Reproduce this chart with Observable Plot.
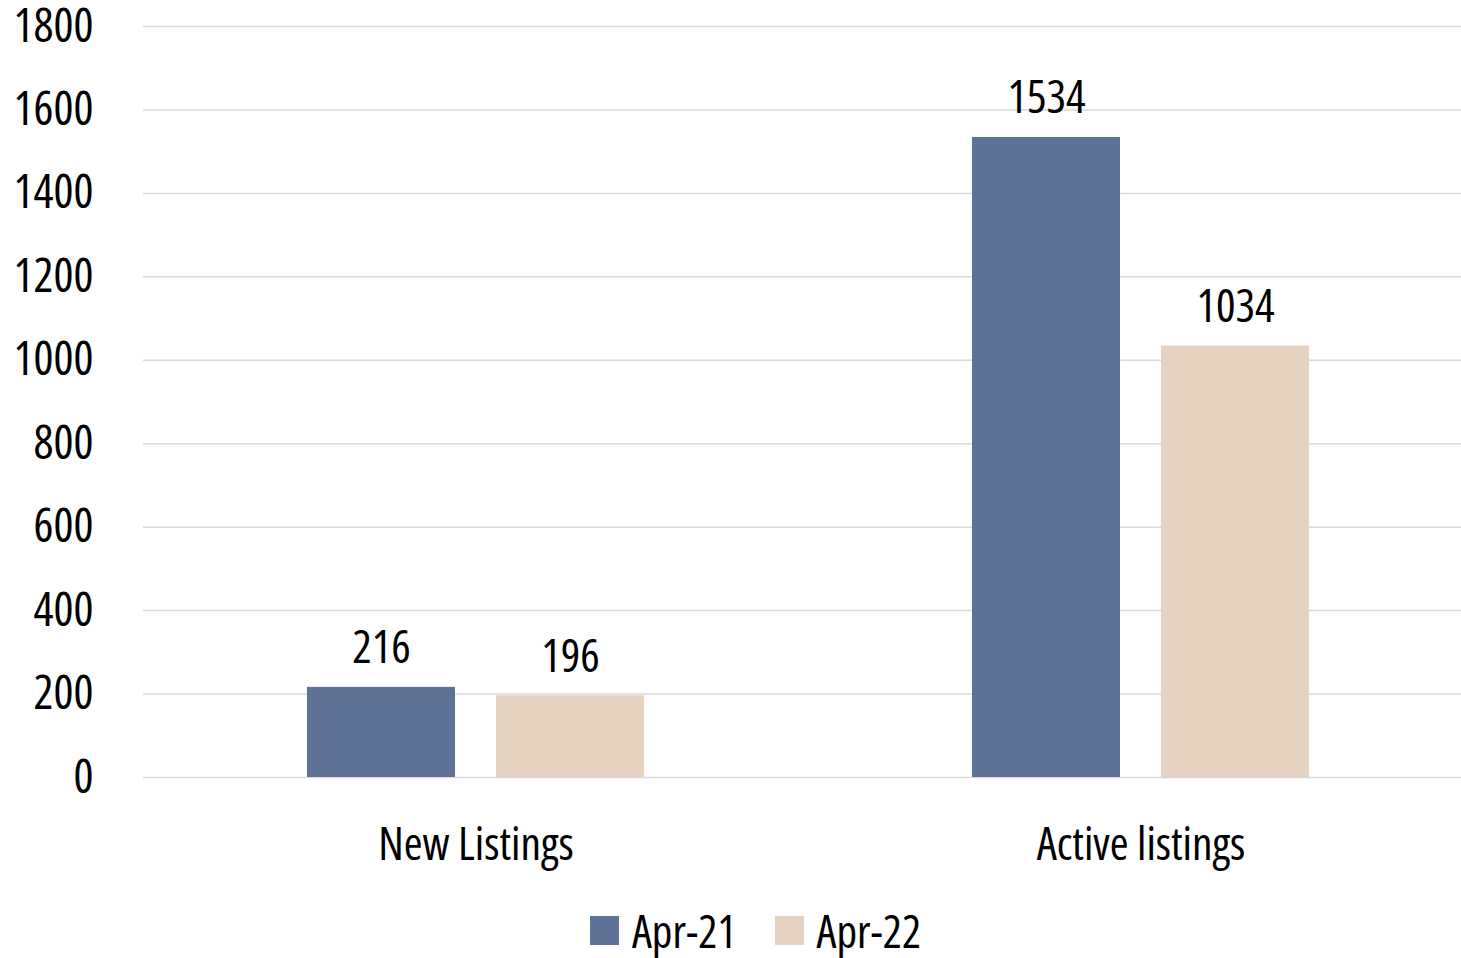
<!DOCTYPE html>
<html>
<head>
<meta charset="utf-8">
<script src="https://cdn.jsdelivr.net/npm/d3@7"></script>
<script src="https://cdn.jsdelivr.net/npm/@observablehq/plot@0.6"></script>
<style>
  html, body { margin: 0; padding: 0; background: #fff; }
  body { width: 1461px; height: 958px; overflow: hidden; font-family: "Open Sans", "DejaVu Sans", sans-serif; font-stretch: 75%; }
  svg text { font-stretch: 75%; }
  #chart { width: 1461px; overflow: hidden; padding-top: 10px; }
  #chart svg { display: block; }
  #legend { display: flex; justify-content: center; align-items: center; gap: 38px; height: 60px; margin-top: 20px; padding-left: 50px; width: 1411px; font-size: 45px; color: #000; }
  #legend .item { display: flex; align-items: center; gap: 13px; }
  #legend .sw { width: 29px; height: 29px; display: inline-block; }
</style>
</head>
<body>
<div id="chart"></div>
<div id="legend"></div>
<script>
const categories = ["New Listings", "Active listings"];
const seriesNames = ["Apr-21", "Apr-22"];
const apr21 = [216, 1534];
const apr22 = [196, 1034];
const colors = ["#5e7197", "#e5d2c0"];
const yTicks = [0, 200, 400, 600, 800, 1000, 1200, 1400, 1600, 1800];

const data = [];
categories.forEach((c, i) => {
  data.push({category: c, series: seriesNames[0], value: apr21[i]});
  data.push({category: c, series: seriesNames[1], value: apr22[i]});
});

const font = '"Open Sans", "DejaVu Sans", sans-serif';
const outerPad = 164; // half of the gap between category groups, px

const chart = Plot.plot({
  width: 1473,
  height: 870,
  marginLeft: 143,
  marginRight: 0,
  marginTop: 16,
  marginBottom: 103,
  style: {fontFamily: font, fontSize: "46px", color: "#000", background: "#fff", overflow: "visible", maxWidth: "none"},
  fx: {domain: categories, paddingInner: 0.4932, paddingOuter: 0.2466, label: null},
  x: {domain: seriesNames, paddingInner: 0.217, paddingOuter: 0, axis: null},
  y: {domain: [0, 1800], ticks: yTicks, label: null},
  color: {domain: seriesNames, range: colors},
  marks: [
    Plot.ruleY(yTicks, {stroke: "#d9d9d9", strokeWidth: 1.5, insetLeft: -outerPad, insetRight: -outerPad}),
    Plot.axisY({ticks: yTicks, tickSize: 0, tickPadding: 214, fontSize: 47, label: null, tickFormat: d => String(d)}),
    Plot.axisFx({anchor: "bottom", tickSize: 0, tickPadding: 50, fontSize: 45.5, label: null}),
    Plot.barY(data, {fx: "category", x: "series", y: "value", fill: "series"}),
    Plot.text(data, {fx: "category", x: "series", y: "value", text: d => String(d.value), lineAnchor: "bottom", dy: -24, fontSize: 46, fill: "#000"})
  ]
});
document.getElementById("chart").appendChild(chart);

const legend = document.getElementById("legend");
seriesNames.forEach((s, i) => {
  const item = document.createElement("div");
  item.className = "item";
  const sw = document.createElement("span");
  sw.className = "sw";
  sw.style.background = colors[i];
  const t = document.createElement("span");
  t.textContent = s;
  item.appendChild(sw);
  item.appendChild(t);
  legend.appendChild(item);
});
</script>
</body>
</html>
